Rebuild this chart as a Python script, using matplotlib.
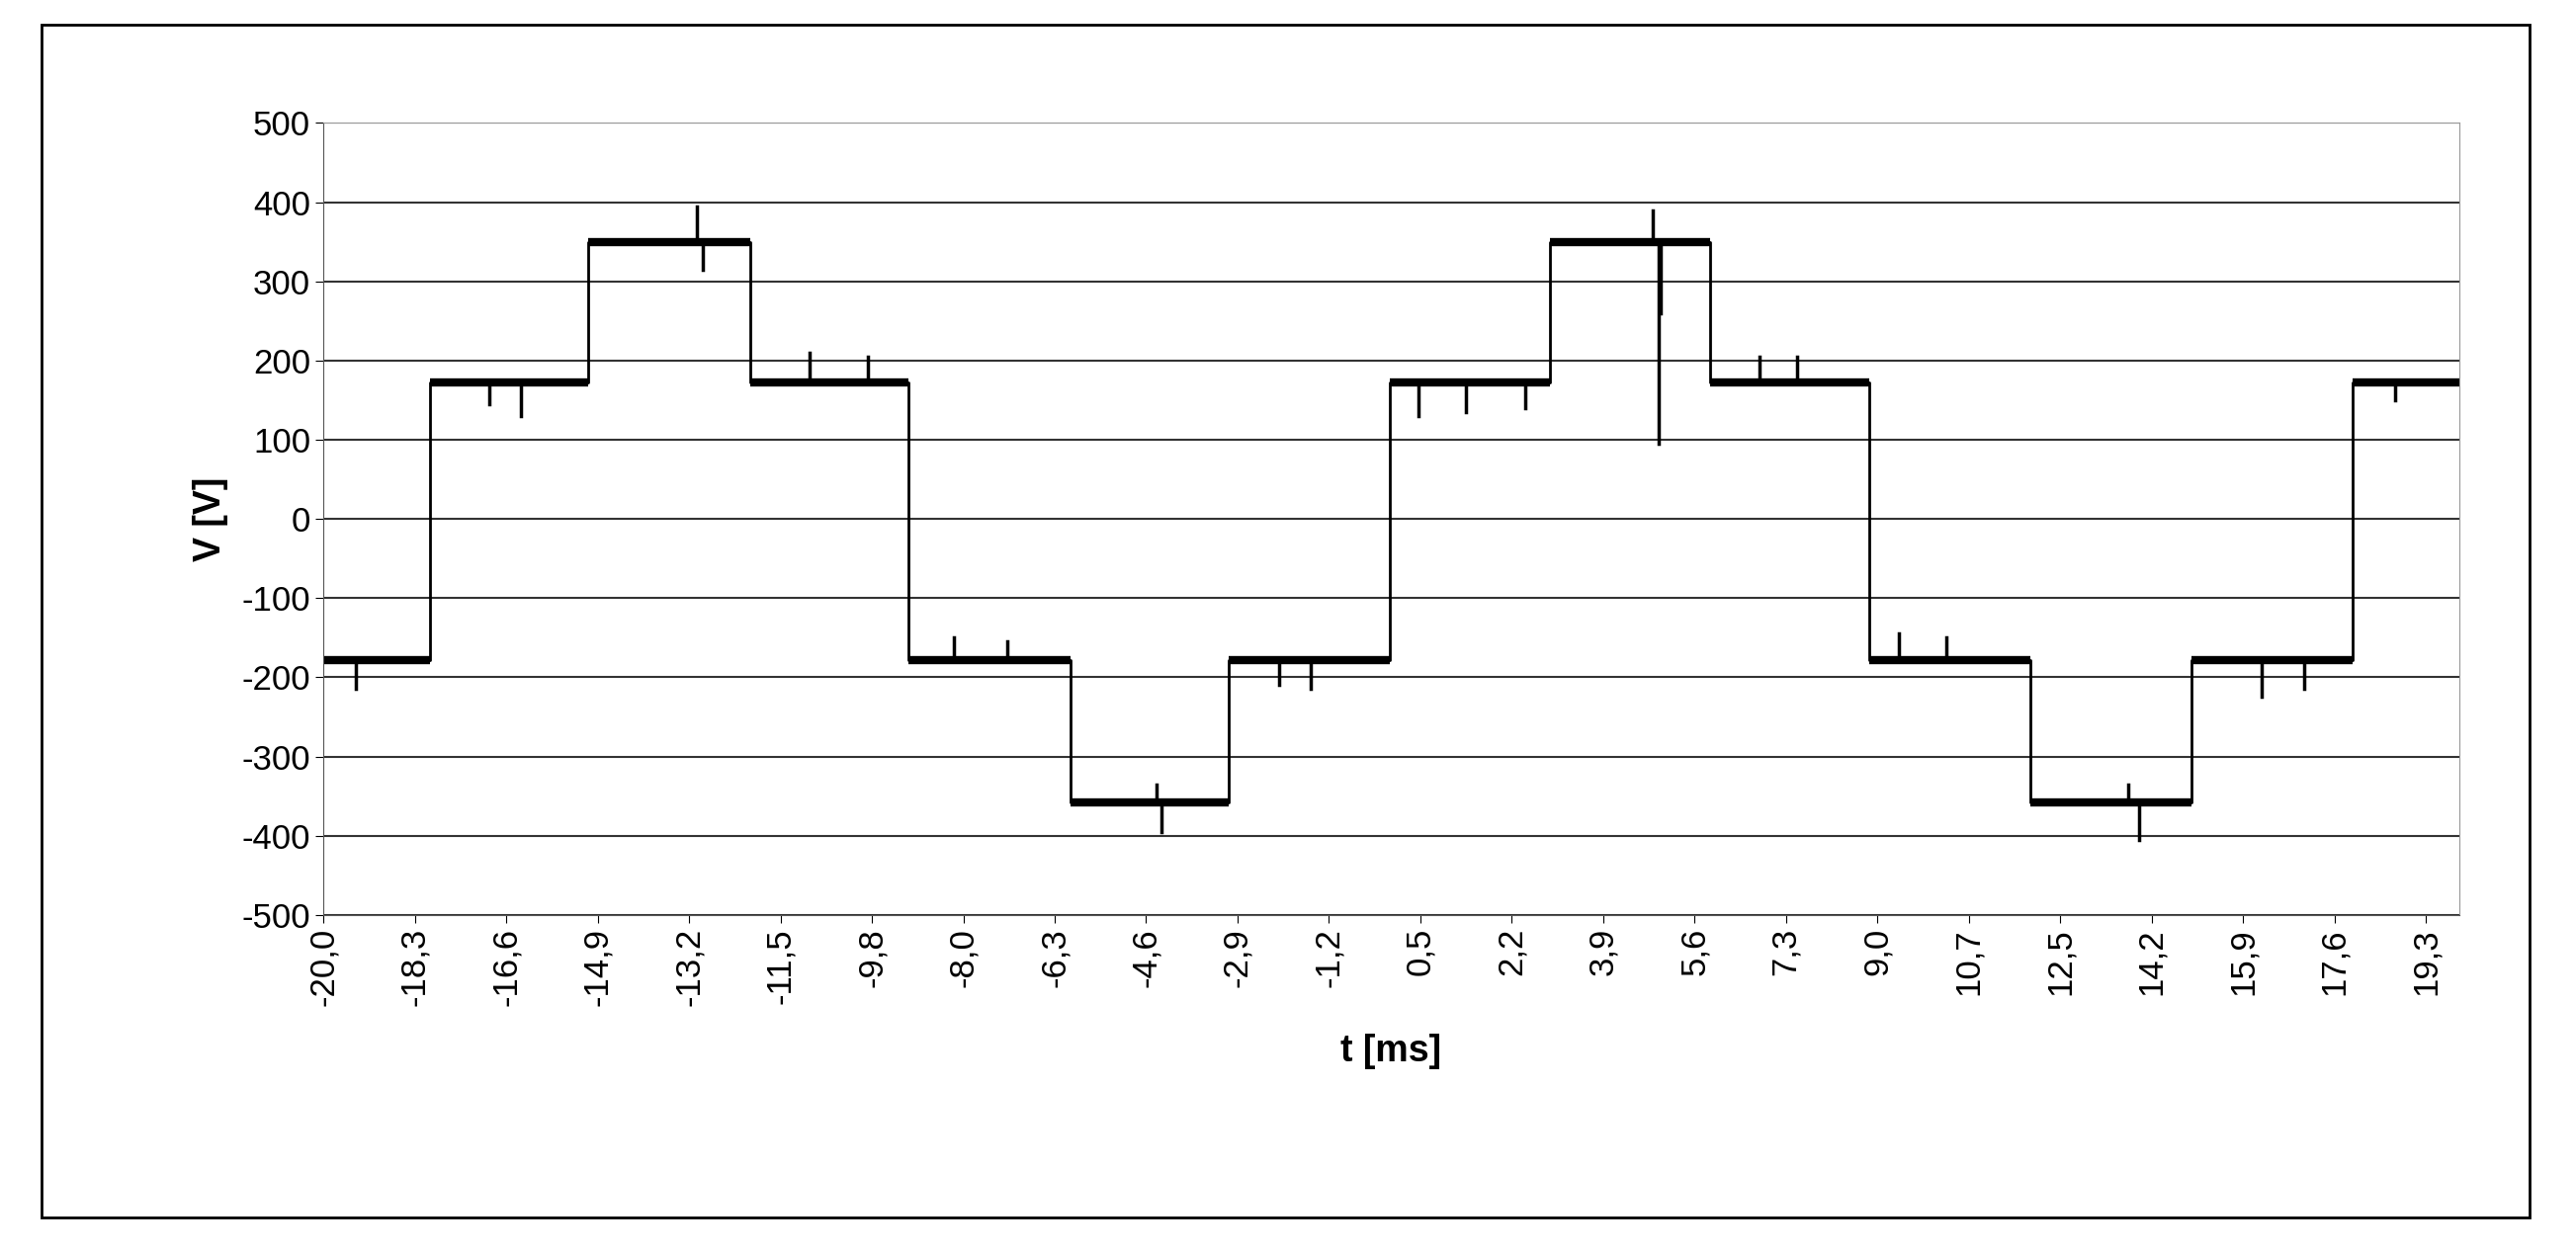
import matplotlib.pyplot as plt
from matplotlib.patches import Rectangle

plt.rcParams["font.family"] = ["Liberation Sans", "DejaVu Sans"]
plt.rcParams["axes.unicode_minus"] = False

# ===== Waveform =====
STEP_TIMES = [-20.0, -18.0, -15.05, -12.0, -9.05, -6.0, -3.05, -0.03, 2.98, 5.97, 8.95, 11.97, 14.98, 18.0, 20.0]
STEP_LEVELS = [-178, 172, 350, 172, -178, -358, -178, 172, 350, 172, -178, -358, -178, 172]

# short glitches: (time ms, peak value V)
SPIKE_T = [-19.4, -16.9, -16.3, -13.0, -12.9, -10.9, -9.8, -8.2, -7.2, -4.4, -4.3, -2.1, -1.5,
           0.5, 1.4, 2.5, 4.9, 5.0, 5.05, 6.9, 7.6, 9.5, 10.4, 13.8, 14.0, 16.3, 17.1, 18.8]
SPIKE_V = [-215, 145, 130, 395, 315, 210, 205, -150, -155, -335, -395, -210, -215,
           130, 135, 140, 390, 95, 260, 205, 205, -145, -150, -335, -405, -225, -215, 150]

TICK_LABELS = ["-20,0", "-18,3", "-16,6", "-14,9", "-13,2", "-11,5", "-9,8", "-8,0", "-6,3", "-4,6",
               "-2,9", "-1,2", "0,5", "2,2", "3,9", "5,6", "7,3", "9,0", "10,7", "12,5", "14,2",
               "15,9", "17,6", "19,3"]
TICK_POS = [-20 + i * 1.712 for i in range(len(TICK_LABELS))]

fig = plt.figure(figsize=(26.06, 12.7), dpi=100)
fig.patches.append(Rectangle((0.016, 0.03), 0.966, 0.95, transform=fig.transFigure,
                             fill=False, edgecolor="black", linewidth=2))
ax = fig.add_axes([0.1256, 0.271, 0.829, 0.631])

xs, ys = [], []
for i, lvl in enumerate(STEP_LEVELS):
    xs += [STEP_TIMES[i], STEP_TIMES[i + 1]]
    ys += [lvl, lvl]
    ax.plot([STEP_TIMES[i], STEP_TIMES[i + 1]], [lvl, lvl], color="black", linewidth=6,
            solid_capstyle="butt")
ax.plot(xs, ys, color="black", linewidth=2)

for t, v in zip(SPIKE_T, SPIKE_V):
    base = STEP_LEVELS[max(i for i in range(len(STEP_LEVELS)) if STEP_TIMES[i] <= t)]
    ax.plot([t, t], [base, v], color="black", linewidth=2.5)

ax.set_xlim(-20, 20)
ax.set_ylim(-500, 500)
ax.set_yticks(range(-500, 501, 100))
ax.set_xticks(TICK_POS)
ax.set_xticklabels(TICK_LABELS, rotation=90)
ax.tick_params(labelsize=25, length=6, color="black")
ax.grid(axis="y", color="#333333", linewidth=1.5)
ax.set_axisbelow(True)
for side in ["top", "right"]:
    ax.spines[side].set_color("#999999")
ax.spines["left"].set_color("#555555")
ax.spines["bottom"].set_color("#555555")
ax.set_xlabel("t [ms]", fontsize=27, fontweight="bold", labelpad=20)
ax.set_ylabel("V [V]", fontsize=27, fontweight="bold", labelpad=10)

fig.savefig("out.png", dpi=100)
